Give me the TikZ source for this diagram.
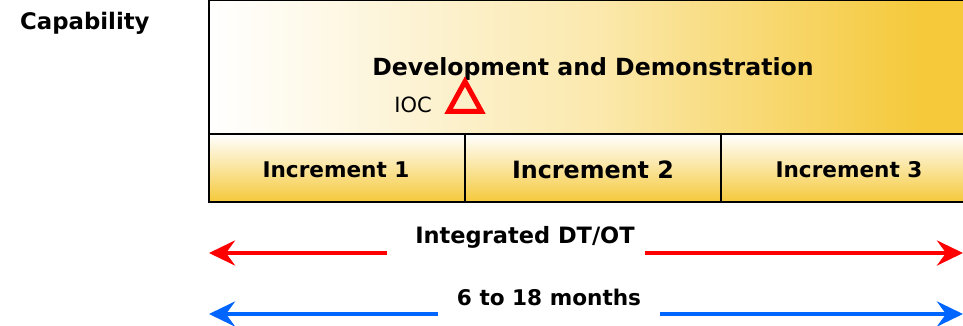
\documentclass[tikz,border=0pt]{standalone}
\usepackage{fontspec}
\setmainfont{DejaVu Sans}
\usetikzlibrary{arrows.meta}
\definecolor{gold}{HTML}{F5C93A}
\definecolor{pred}{HTML}{FF0000}
\definecolor{pblue}{HTML}{0066FF}
\tikzset{
  txt/.style={font=\bfseries, inner sep=0pt},
  box/.style={draw=black, line width=2.2pt},
  redarr/.style={draw=pred, line width=4.5pt, -{Stealth[length=26pt,width=25pt,inset=9pt]}},
  bluearr/.style={draw=pblue, line width=4.5pt, -{Stealth[length=26pt,width=25pt,inset=9pt]}},
}
\newcommand{\fs}[1]{\fontsize{#1}{#1}\selectfont}
\begin{document}
\begin{tikzpicture}[x=1pt,y=-1pt]
\useasboundingbox (0,0) rectangle (963,326);
\begin{scope}
\clip (0,0) rectangle (963,326);
% top box
\fill[gold] (919,0) rectangle (980,134);
\shade[left color=white, right color={gold!42!white}] (209,0) rectangle (600,134);
\shade[left color={gold!42!white}, right color=gold] (599,0) rectangle (921,134);
\draw[box] (209,-5) -- (209,134) -- (980,134);
\draw[box] (209,0) -- (980,0);
% increments
\foreach \a/\b in {209/465,465/721,721/990}{
  \shade[top color=white, bottom color=gold] (\a,134) rectangle (\b,202);
  \draw[box] (\a,134) rectangle (\b,202);
}
\end{scope}
\node[txt, anchor=west] (cap) at (20,23) {\fs{22.8}Capability};
\node[txt] (dev) at (593,69) {\fs{23.6}Development and Demonstration};
\node[inner sep=0pt] (ioc) at (413,105) {\fs{21}IOC};
\draw[pred, line width=5pt, line join=miter] (465,81.5) -- (481.5,111.5) -- (448.5,111.5) -- cycle;
\node[txt] (i1) at (336,170) {\fs{21.6}Increment 1};
\node[txt] (i2) at (593,170) {\fs{23.8}Increment 2};
\node[txt] (i3) at (849,170) {\fs{21.6}Increment 3};
% arrows
\node[txt] (dtot) at (525,237) {\fs{22.5}Integrated DT/OT};
\coordinate (r1) at (387,253);
\coordinate (r0) at (209,253);
\coordinate (r2) at (645,253);
\coordinate (r3) at (963,253);
\draw[redarr] (r1) -- (r0);
\draw[redarr] (r2) -- (r3);
\node[txt] (mon) at (549,297) {\fs{21.6}6 to 18 months};
\coordinate (b1) at (438,314);
\coordinate (b0) at (209,314);
\coordinate (b2) at (660,314);
\coordinate (b3) at (963,314);
\draw[bluearr] (b1) -- (b0);
\draw[bluearr] (b2) -- (b3);
\end{tikzpicture}
\end{document}
